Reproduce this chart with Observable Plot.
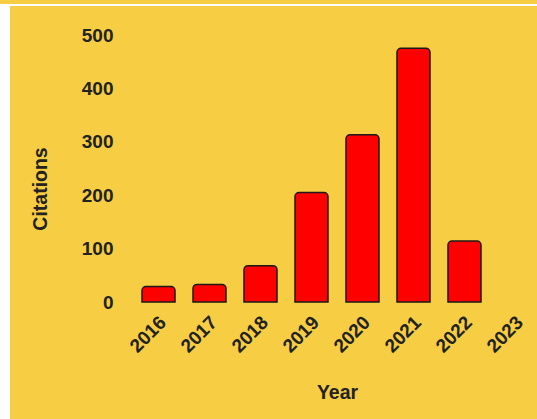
<!DOCTYPE html>
<html>
<head>
<meta charset="utf-8">
<script src="https://cdn.jsdelivr.net/npm/d3@7"></script>
<script src="https://cdn.jsdelivr.net/npm/@observablehq/plot@0.6"></script>
<style>
  html, body { margin: 0; padding: 0; background: #ffffff; overflow: hidden; width: 537px; height: 419px; }
  #strip { height: 4px; background: #F7CE43; }
  #gap { height: 2px; background: #ffffff; }
  #chart { margin-left: 10px; width: 527px; height: 413px; background: #F7CE43; overflow: hidden; }
  #chart svg { display: block; max-width: none !important; }
</style>
</head>
<body>
<div id="strip"></div>
<div id="gap"></div>
<div id="chart"></div>
<script>
const years = ["2016", "2017", "2018", "2019", "2020", "2021", "2022", "2023"];
const citations = [29, 33, 68, 205, 313, 475, 114, 0];
const yTicks = [0, 100, 200, 300, 400, 500];
const yLabel = "Citations";
const xLabel = "Year";

const data = years.map((year, i) => ({year, citations: citations[i]}));

const chart = Plot.plot({
  width: 531,
  height: 413,
  marginLeft: 123,
  marginRight: 0,
  marginTop: 29,
  marginBottom: 117,
  style: {
    fontFamily: "'Liberation Sans', Arial, sans-serif",
    fontSize: "19px",
    fontWeight: "bold",
    color: "#222",
    background: "transparent",
    overflow: "visible"
  },
  x: {domain: years, paddingInner: 0.35, paddingOuter: 0.175},
  y: {domain: [0, 500]},
  marks: [
    Plot.barY(data, {
      x: "year",
      y: "citations",
      filter: d => d.citations > 0,
      fill: "#ff0000",
      stroke: "#1a1a1a",
      strokeWidth: 1.5,
      rx1y1: 4, rx2y1: 4
    }),
    Plot.axisY({ticks: yTicks, tickSize: 0, tickPadding: 20, label: null}),
    Plot.axisX({tickSize: 0, tickPadding: 17, dx: 4, tickRotate: -45, label: null}),
    Plot.text([yLabel], {frameAnchor: "left", textAnchor: "middle", rotate: -90, dx: -93, dy: 20, fontSize: 19.5, fontWeight: "bold"}),
    Plot.text([xLabel], {frameAnchor: "bottom", dy: 96, dx: 0, fontSize: 19.5, fontWeight: "bold"})
  ]
});
document.getElementById("chart").appendChild(chart);
</script>
</body>
</html>
